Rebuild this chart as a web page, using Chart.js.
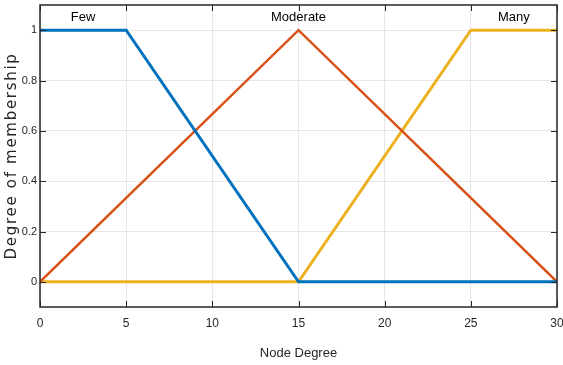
<!DOCTYPE html>
<html>
<head>
<meta charset="utf-8">
<script src="https://cdn.jsdelivr.net/npm/chart.js@4/dist/chart.umd.min.js"></script>
<style>
  html, body { margin: 0; padding: 0; background: #fff; }
  #wrap { width: 563px; height: 365px; }
</style>
</head>
<body>
<div id="wrap"><canvas id="myChart" width="563" height="365"></canvas></div>
<script>
// Dữ liệu hàm thành viên
const fewPts = [[0, 1], [5, 1], [15, 0], [30, 0]];
const moderatePts = [[0, 0], [15, 1], [30, 0]];
const manyPts = [[0, 0], [15, 0], [25, 1], [30, 1]];

const xTicks = [0, 5, 10, 15, 20, 25, 30];
const yTicks = [0, 0.2, 0.4, 0.6, 0.8, 1];

// Nhãn trên đỉnh mỗi hàm
const mfNames = ['Few', 'Moderate', 'Many'];
const mfNameX = [2.5, 15, 27.5];
const mfNameY = 1.05;

const yTitle = 'Degree of membership';

const SANS = '"Liberation Sans", Arial, sans-serif';

function toXY(pts) {
    return pts.map(p => ({ x: p[0], y: p[1] }));
}

// Plugin vẽ khung, vạch chia hướng vào trong và nhãn
const framePlugin = {
    id: 'frame',
    afterDatasetsDraw(chart) {
        const { ctx, chartArea: a, scales } = chart;
        const xs = scales.x, ys = scales.y;
        ctx.save();

        // nhãn tên
        ctx.fillStyle = '#000';
        ctx.font = '13px ' + SANS;
        ctx.textAlign = 'center';
        ctx.textBaseline = 'middle';
        mfNames.forEach((n, i) => {
            ctx.fillText(n, xs.getPixelForValue(mfNameX[i]), ys.getPixelForValue(mfNameY));
        });

        // tiêu đề trục y
        ctx.save();
        ctx.translate(12.5, (a.top + a.bottom) / 2);
        ctx.rotate(-Math.PI / 2);
        ctx.font = '15px "DejaVu Sans", sans-serif';
        ctx.letterSpacing = '1.7px';
        ctx.fillStyle = '#262626';
        ctx.fillText(yTitle, 0, 0);
        ctx.restore();

        // vạch chia
        ctx.strokeStyle = '#262626';
        ctx.lineWidth = 1;
        const tl = 6;
        ctx.beginPath();
        xTicks.forEach(v => {
            const px = Math.round(xs.getPixelForValue(v)) + 0.5;
            ctx.moveTo(px, a.bottom); ctx.lineTo(px, a.bottom - tl);
            ctx.moveTo(px, a.top); ctx.lineTo(px, a.top + tl);
        });
        yTicks.forEach(v => {
            const py = Math.round(ys.getPixelForValue(v)) + 0.5;
            ctx.moveTo(a.left, py); ctx.lineTo(a.left + tl, py);
            ctx.moveTo(a.right, py); ctx.lineTo(a.right - tl, py);
        });
        ctx.stroke();

        // khung
        ctx.lineWidth = 1.5;
        ctx.strokeRect(a.left, a.top, a.right - a.left, a.bottom - a.top);
        ctx.restore();
    }
};

const ctx = document.getElementById('myChart').getContext('2d');
new Chart(ctx, {
    type: 'line',
    data: {
        datasets: [
            { label: 'Few', data: toXY(fewPts), borderColor: '#0072BD', borderWidth: 3 },
            { label: 'Moderate', data: toXY(moderatePts), borderColor: '#D95319', borderWidth: 2.5 },
            { label: 'Many', data: toXY(manyPts), borderColor: '#EDB120', borderWidth: 3 }
        ]
    },
    options: {
        responsive: false,
        animation: false,
        devicePixelRatio: 1,
        elements: {
            point: { radius: 0 },
            line: { tension: 0, borderCapStyle: 'butt', borderJoinStyle: 'miter' }
        },
        layout: { padding: { top: 5, right: 6, left: 0, bottom: 0 } },
        plugins: {
            legend: { display: false },
            tooltip: { enabled: false }
        },
        scales: {
            x: {
                type: 'linear',
                min: 0,
                max: 30,
                afterBuildTicks: s => { s.ticks = xTicks.map(v => ({ value: v })); },
                afterFit: s => { s.height = 58; s.paddingLeft = 0; s.paddingRight = 0; },
                grid: { color: '#e6e6e6', drawTicks: false },
                border: { display: false },
                ticks: {
                    color: '#262626',
                    padding: 9,
                    font: { family: SANS, size: 12 },
                    maxRotation: 0
                },
                title: {
                    display: true,
                    text: 'Node Degree',
                    color: '#262626',
                    font: { family: SANS, size: 13 },
                    padding: { top: 8 }
                }
            },
            y: {
                type: 'linear',
                min: -0.1,
                max: 1.1,
                afterBuildTicks: s => { s.ticks = yTicks.map(v => ({ value: v })); },
                afterFit: s => { s.width = 40; s.paddingTop = 0; s.paddingBottom = 0; },
                grid: { color: '#e6e6e6', drawTicks: false },
                border: { display: false },
                ticks: {
                    color: '#262626',
                    padding: 3,
                    font: { family: SANS, size: 11 },
                    callback: v => String(Math.round(v * 10) / 10)
                }
            }
        }
    },
    plugins: [framePlugin]
});
</script>
</body>
</html>
